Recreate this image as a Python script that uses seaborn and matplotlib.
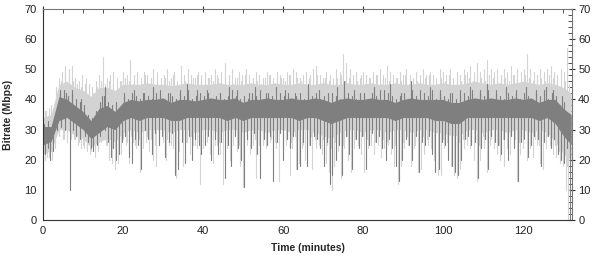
import numpy as np
import pandas as pd
import matplotlib
matplotlib.use("Agg")
import matplotlib.pyplot as plt
import seaborn as sns
from matplotlib.ticker import MultipleLocator

# ---- core band readings every 2 minutes (t = 0, 2, ..., 132) ----
band_t = list(range(0, 133, 2))
dark_top = [31, 31, 41, 40, 38, 36, 33, 37, 38, 36,
            39, 40, 39.5, 40, 40, 40.5, 39, 40, 40, 39.5,
            40, 40.5, 40, 40, 40.5, 39, 40, 40, 40.5, 40,
            40, 40.5, 40, 40, 40.5, 40, 39, 40, 40.5, 40,
            40, 40.5, 40, 40, 39, 40, 40.5, 40, 40, 40,
            40, 39, 39, 40, 40.5, 40, 40.5, 40, 40, 40.5,
            40, 40.5, 39, 40, 40, 37, 35]
dark_bot = [25, 26, 33, 34, 32, 30, 27, 29, 31, 30,
            33, 34, 33, 34, 34, 34, 33, 33, 34, 34,
            34, 34, 34, 33, 34, 33, 34, 34, 34, 34,
            34, 34, 33, 34, 34, 33, 32, 33, 34, 34,
            34, 34, 34, 34, 33, 34, 34, 34, 34, 33,
            33, 32, 32, 34, 34, 34, 34, 34, 34, 34,
            34, 34, 33, 34, 32, 28, 25]
light_top = [34, 35, 45, 46, 44, 43, 41, 44, 44, 43,
             45, 45, 45, 45.5, 45, 45, 44.5, 45, 45.5, 45,
             45, 45, 45.5, 45, 45, 45, 45.5, 45, 45, 45.5,
             45, 45, 45.5, 45, 45, 45.5, 45, 45, 45.5, 45,
             45, 45.5, 45, 45, 45.5, 45, 45, 45.5, 45, 45,
             45.5, 45, 45, 45.5, 46, 45.5, 45, 45.5, 45, 45.5,
             46, 45.5, 45, 45.5, 45, 44, 42]
light_bot = [22, 23, 30, 30, 28, 27, 24, 26, 27, 26,
             29, 30, 29, 30, 30, 30, 29, 30, 30, 29,
             30, 30, 29, 30, 30, 29, 30, 30, 29, 30,
             30, 29, 30, 30, 29, 28, 27, 29, 30, 30,
             29, 30, 30, 29, 30, 30, 29, 30, 30, 29,
             29, 28, 28, 30, 30, 29, 30, 30, 29, 30,
             30, 29, 30, 29, 26, 22, 20]

# ---- per-minute edge readings (minute 0 .. 131) ----
minutes = list(range(132))
dark_edge_hi = [32, 33, 31, 33, 42, 43, 41, 42, 40, 39,
                38, 35, 34, 36, 39, 41, 39, 38, 39, 37,
                41, 40, 42, 41, 40, 42, 41, 40, 42, 41,
                40, 42, 41, 40, 42, 41, 43, 40, 41, 42,
                41, 42, 40, 41, 42, 40, 41, 43, 41, 40,
                41, 40, 42, 41, 43, 40, 42, 41, 40, 42,
                41, 42, 40, 41, 42, 40, 43, 41, 42, 40,
                41, 40, 42, 41, 40, 43, 42, 41, 40, 42,
                41, 40, 42, 41, 43, 40, 42, 41, 40, 41,
                42, 40, 43, 41, 40, 42, 41, 43, 40, 42,
                41, 40, 42, 40, 41, 42, 41, 43, 40, 42,
                41, 43, 40, 42, 41, 40, 42, 41, 43, 40,
                42, 41, 40, 42, 41, 43, 40, 42, 41, 38,
                39, 34]
light_edge_hi = [36, 37, 35, 38, 46, 48, 47, 46, 45, 44,
                 45, 43, 42, 44, 46, 45, 46, 45, 44, 46,
                 47, 46, 45, 47, 46, 48, 45, 47, 46, 45,
                 47, 46, 48, 45, 47, 46, 45, 47, 48, 46,
                 45, 47, 46, 48, 45, 47, 46, 45, 47, 46,
                 48, 45, 47, 46, 45, 47, 48, 46, 45, 47,
                 46, 48, 45, 47, 46, 45, 47, 46, 48, 45,
                 47, 46, 45, 47, 48, 46, 47, 45, 46, 48,
                 45, 47, 46, 48, 45, 47, 46, 45, 47, 46,
                 48, 45, 47, 46, 45, 47, 48, 46, 45, 47,
                 46, 48, 45, 47, 46, 48, 47, 46, 48, 47,
                 46, 48, 47, 46, 48, 47, 46, 48, 47, 46,
                 48, 47, 46, 48, 47, 46, 48, 47, 46, 45,
                 46, 40]
light_edge_lo = [22, 21, 23, 24, 28, 27, 29, 28, 27, 26,
                 25, 24, 23, 24, 26, 27, 25, 23, 24, 25,
                 27, 26, 28, 25, 27, 26, 28, 27, 25, 26,
                 28, 27, 25, 26, 28, 27, 26, 28, 25, 27,
                 26, 28, 27, 25, 26, 28, 27, 26, 28, 25,
                 27, 26, 28, 27, 25, 26, 28, 27, 26, 28,
                 25, 27, 26, 28, 27, 25, 26, 28, 27, 26,
                 27, 25, 24, 26, 27, 25, 28, 26, 27, 25,
                 28, 27, 25, 26, 28, 27, 26, 28, 25, 27,
                 26, 28, 27, 25, 26, 28, 27, 26, 28, 25,
                 27, 26, 25, 24, 26, 27, 28, 26, 27, 25,
                 28, 26, 27, 28, 25, 27, 26, 28, 27, 26,
                 27, 28, 26, 27, 25, 27, 28, 26, 25, 23,
                 21, 18]

# ---- single-sample excursions (time in minutes, Mbps) ----
dark_down = [(0.4, 22), (1.2, 24), (1.8, 20), (2.6, 23), (3.4, 30), (4.6, 31), (5.5, 30),
             (6.8, 10), (7.5, 30), (8.3, 28), (9.2, 27), (10.4, 28), (11.2, 26), (11.9, 24),
             (12.6, 23), (13.5, 25), (14.3, 28), (15.4, 30), (16.2, 26), (16.9, 21), (17.6, 24),
             (18.3, 20), (19.1, 22), (19.8, 26), (20.6, 28), (21.4, 21), (22.2, 19), (23.1, 27),
             (23.8, 25), (24.6, 17), (25.5, 30), (26.3, 27), (27.2, 22), (28.1, 29), (28.9, 25),
             (29.7, 28), (30.5, 21), (31.4, 26), (32.2, 29), (33.1, 15), (33.8, 17), (34.7, 26),
             (35.5, 19), (36.4, 28), (37.2, 20), (38.1, 27), (38.9, 25), (39.6, 22), (40.5, 25),
             (41.3, 28), (42.1, 20), (43.0, 27), (43.8, 22), (44.6, 26), (45.4, 14), (46.3, 25),
             (47.1, 18), (47.9, 28), (48.8, 24), (49.6, 20), (50.2, 11), (51.0, 27), (51.9, 24),
             (52.7, 29), (53.5, 22), (54.3, 14), (55.2, 27), (56.0, 25), (56.8, 28), (57.6, 13),
             (58.5, 26), (59.3, 29), (60.1, 20), (61.0, 27), (61.8, 24), (62.6, 28), (63.4, 17),
             (64.3, 18), (65.1, 26), (65.9, 18), (66.8, 25), (67.6, 28), (68.5, 27), (69.3, 24),
             (70.1, 18), (70.9, 26), (71.6, 12), (72.3, 15), (73.1, 20), (73.9, 25), (74.7, 15),
             (75.6, 28), (76.4, 22), (77.2, 17), (78.1, 27), (78.9, 24), (79.7, 28), (80.6, 17),
             (81.4, 25), (82.2, 29), (83.1, 26), (83.9, 28), (84.7, 24), (85.6, 20), (86.4, 27),
             (87.2, 24), (88.1, 18), (88.9, 13), (89.7, 20), (90.6, 27), (91.4, 25), (92.2, 20),
             (93.1, 28), (93.9, 16), (94.7, 26), (95.5, 25), (96.4, 28), (97.2, 22), (98.0, 16),
             (98.9, 17), (99.7, 26), (100.5, 25), (101.3, 20), (102.2, 18), (102.9, 16), (103.7, 15),
             (104.5, 20), (105.4, 27), (106.2, 28), (107.0, 25), (107.9, 26), (108.7, 14), (109.5, 24),
             (110.4, 27), (111.2, 17), (112.0, 28), (112.9, 26), (113.7, 25), (114.5, 22), (115.3, 27),
             (116.2, 20), (117.0, 28), (117.8, 24), (118.7, 13), (119.5, 26), (120.3, 27), (121.2, 21),
             (122.0, 25), (122.8, 28), (123.7, 27), (124.5, 18), (125.3, 26), (126.2, 28), (127.0, 24),
             (127.8, 27), (128.7, 22), (129.5, 20), (130.3, 19), (131.0, 24), (131.8, 0)]
dark_up = [(4.2, 43), (5.8, 42), (7.2, 43), (9.6, 40), (14.8, 41), (15.6, 44), (20.3, 42),
           (22.8, 43), (25.1, 42), (27.4, 44), (29.2, 43), (31.7, 42), (34.2, 43), (36.1, 45),
           (38.6, 43), (41.1, 43), (44.2, 42), (46.6, 44), (48.4, 43), (51.4, 42), (53.1, 44),
           (55.8, 42), (58.2, 44), (60.6, 43), (63.0, 42), (66.2, 45), (68.9, 43), (71.2, 42),
           (73.5, 44), (75.2, 46), (77.8, 43), (80.2, 42), (82.7, 44), (85.1, 43), (86.8, 45),
           (89.4, 42), (92.0, 46), (94.3, 43), (96.8, 44), (99.2, 43), (101.6, 42), (104.1, 43),
           (106.6, 44), (109.1, 43), (111.0, 45), (113.3, 43), (115.8, 44), (118.1, 42), (120.6, 44),
           (123.2, 43), (125.7, 44), (127.4, 43), (129.8, 41)]
light_up = [(0.8, 36), (2.0, 38), (3.2, 44), (3.9, 47), (4.8, 49), (5.6, 51), (6.4, 50), (7.3, 51),
            (8.1, 47), (9.0, 46), (9.8, 48), (10.7, 47), (11.5, 45), (12.3, 44), (13.2, 46), (14.0, 48),
            (15.0, 54), (15.9, 47), (16.7, 48), (17.5, 49), (18.4, 47), (19.3, 46), (20.1, 49),
            (21.0, 48), (21.8, 53), (22.7, 48), (23.5, 49), (24.4, 47), (25.2, 49), (26.1, 48),
            (26.9, 47), (27.6, 50), (28.5, 49), (29.4, 47), (30.2, 48), (31.0, 50), (31.9, 47),
            (32.8, 49), (33.6, 46), (34.5, 51), (35.3, 48), (36.2, 50), (37.0, 48), (37.9, 47),
            (38.7, 49), (39.5, 48), (40.4, 49), (41.2, 47), (42.0, 48), (42.9, 50), (43.7, 47),
            (44.5, 49), (45.6, 52), (46.4, 48), (47.3, 50), (48.1, 47), (49.0, 49), (49.8, 48),
            (50.7, 50), (51.6, 48), (52.4, 47), (53.2, 49), (54.1, 48), (55.0, 47), (55.9, 49),
            (56.7, 48), (57.5, 47), (58.4, 49), (59.2, 48), (60.0, 47), (60.9, 49), (61.7, 48),
            (62.5, 50), (63.3, 49), (64.2, 47), (65.0, 48), (65.8, 49), (66.6, 48), (67.5, 50),
            (68.3, 51), (69.1, 48), (69.9, 47), (70.8, 49), (71.6, 48), (72.5, 47), (73.3, 50),
            (74.2, 49), (75.0, 55), (75.8, 52), (76.7, 50), (77.5, 48), (78.3, 49), (79.2, 47),
            (80.0, 49), (80.8, 48), (81.7, 47), (82.5, 49), (83.3, 48), (84.2, 50), (85.0, 48),
            (85.9, 51), (86.7, 49), (87.5, 48), (88.3, 47), (89.2, 49), (90.0, 48), (90.8, 50),
            (91.7, 48), (92.5, 47), (93.3, 49), (94.2, 48), (95.0, 50), (95.8, 48), (96.7, 49),
            (97.5, 48), (98.3, 47), (99.1, 50), (100.0, 49), (100.8, 48), (101.7, 50), (102.5, 47),
            (103.4, 49), (104.2, 48), (105.1, 50), (106.0, 49), (106.8, 51), (107.7, 49), (108.5, 52),
            (109.3, 49), (110.2, 50), (111.0, 53), (111.9, 50), (112.7, 49), (113.5, 50), (114.4, 48),
            (115.2, 50), (116.0, 49), (116.9, 51), (117.7, 48), (118.5, 50), (119.4, 49), (120.2, 50),
            (121.0, 55), (121.8, 50), (122.7, 49), (123.5, 48), (124.3, 50), (125.2, 49), (126.0, 50),
            (126.9, 51), (127.7, 49), (128.5, 48), (129.4, 50), (130.2, 49), (130.9, 57), (131.5, 45)]
light_down = [(0.1, 2), (0.6, 20), (1.5, 21), (2.3, 20), (3.0, 26), (4.1, 29), (5.2, 27), (6.1, 26),
              (7.0, 27), (7.8, 27), (8.7, 25), (9.5, 24), (10.2, 24), (11.0, 23), (11.7, 22), (12.9, 21),
              (13.8, 23), (14.6, 26), (15.8, 25), (16.5, 20), (17.3, 19), (18.0, 17), (18.8, 19),
              (19.6, 22), (20.8, 25), (21.6, 19), (22.5, 26), (23.3, 24), (24.2, 16), (25.0, 24),
              (25.8, 26), (26.6, 23), (27.4, 20), (28.3, 18), (29.1, 25), (29.9, 26), (30.8, 20),
              (31.6, 25), (32.5, 24), (33.3, 14), (34.1, 23), (35.0, 18), (35.8, 26), (36.7, 22),
              (37.5, 25), (38.4, 24), (39.2, 12), (40.1, 24), (40.9, 26), (41.7, 22), (42.5, 19),
              (43.4, 25), (44.2, 22), (45.1, 12), (45.9, 24), (46.8, 20), (47.6, 25), (48.5, 23),
              (49.3, 18), (50.0, 11), (50.9, 25), (51.7, 22), (52.5, 25), (53.3, 14), (54.2, 19),
              (55.0, 25), (55.8, 24), (56.7, 26), (57.5, 18), (58.3, 24), (59.1, 13), (60.0, 22),
              (60.8, 25), (61.7, 15), (62.3, 24), (63.2, 17), (64.0, 19), (64.8, 24), (65.6, 20),
              (66.5, 25), (67.3, 17), (68.2, 24), (69.0, 25), (69.8, 22), (70.6, 19), (71.4, 16),
              (72.1, 10), (72.8, 18), (73.7, 23), (74.5, 14), (75.3, 24), (76.2, 20), (77.0, 16),
              (77.8, 24), (78.6, 25), (79.5, 22), (80.3, 16), (81.1, 24), (82.0, 25), (82.8, 22),
              (83.6, 25), (84.5, 21), (85.3, 24), (86.1, 25), (87.0, 22), (87.8, 18), (88.6, 12),
              (89.5, 18), (90.3, 24), (91.1, 25), (92.0, 18), (92.8, 24), (93.6, 16), (94.5, 17),
              (95.3, 22), (96.1, 25), (96.9, 24), (97.8, 20), (98.6, 15), (99.4, 15), (100.3, 24),
              (101.1, 22), (101.9, 18), (102.7, 15), (103.5, 14), (104.3, 17), (105.1, 24), (106.0, 25),
              (106.8, 24), (107.6, 20), (108.5, 13), (109.3, 20), (110.1, 24), (110.9, 16), (111.8, 25),
              (112.6, 24), (113.4, 22), (114.2, 20), (115.1, 18), (115.9, 24), (116.7, 22), (117.6, 25),
              (118.4, 13), (119.2, 22), (120.0, 24), (120.9, 20), (121.7, 24), (122.5, 21), (123.4, 25),
              (124.2, 19), (125.0, 17), (125.8, 24), (126.7, 25), (127.5, 22), (128.3, 21), (129.1, 19),
              (130.0, 18), (130.7, 10), (131.3, 0)]

band_mid = (np.array(dark_top) + np.array(dark_bot)) / 2.0


def spikes(ts, vs):
    ts = np.asarray(ts, dtype=float)
    base = np.interp(ts, band_t, band_mid)
    n = len(ts)
    return pd.DataFrame({"unit": np.repeat(np.arange(n), 2),
                         "t": np.repeat(ts, 2),
                         "v": np.column_stack([base, vs]).ravel()})


def from_pairs(pairs):
    return spikes([p[0] for p in pairs], [p[1] for p in pairs])


LIGHT = "#d3d3d3"
DARK = "#7f7f7f"
m = np.array(minutes, dtype=float)

sns.set_style("white")
plt.rcParams["font.family"] = ["Liberation Sans", "DejaVu Sans"]

fig = plt.figure(figsize=(6.0, 2.61), dpi=100)
ax = fig.add_axes([43 / 600, 1 - 220 / 261, (572 - 43) / 600, (220 - 9) / 261])

ax.fill_between(band_t, light_bot, light_top, color=LIGHT, lw=0, zorder=1.0)
for df in [from_pairs(light_up), from_pairs(light_down),
           spikes(m + 0.55, light_edge_hi), spikes(m + 0.05, light_edge_lo)]:
    sns.lineplot(data=df, x="t", y="v", units="unit", estimator=None,
                 ax=ax, color=LIGHT, lw=0.8, sort=False, zorder=1.2)
ax.fill_between(band_t, dark_bot, dark_top, color=DARK, lw=0, zorder=1.5)
for df in [from_pairs(dark_down), from_pairs(dark_up),
           spikes(m + 0.3, dark_edge_hi)]:
    sns.lineplot(data=df, x="t", y="v", units="unit", estimator=None,
                 ax=ax, color=DARK, lw=0.8, sort=False, zorder=1.7)

ax.set_xlim(0, 132.2)
ax.set_ylim(0, 70)
ax.xaxis.set_major_locator(MultipleLocator(20))
ax.xaxis.set_minor_locator(MultipleLocator(5))
ax.yaxis.set_major_locator(MultipleLocator(10))
ax.yaxis.set_minor_locator(MultipleLocator(2))

ax.tick_params(which="major", direction="inout", length=5, width=0.8,
               color="#333333", labelsize=8, top=True, right=True,
               labelright=True, pad=2)
ax.tick_params(which="minor", direction="in", length=3, width=0.6,
               color="#333333", top=True, right=True)
for lab in ax.get_xticklabels() + ax.get_yticklabels():
    lab.set_color("#222222")

for side in ["left", "bottom"]:
    ax.spines[side].set_color("#333333")
    ax.spines[side].set_linewidth(0.8)
for side in ["top", "right"]:
    ax.spines[side].set_color("#777777")
    ax.spines[side].set_linewidth(0.8)

ax.set_xlabel("Time (minutes)", fontsize=7.5, fontweight="bold", labelpad=5)
ax.set_ylabel("Bitrate (Mbps)", fontsize=7.5, fontweight="bold", labelpad=8)

fig.savefig("out.png", dpi=100)
